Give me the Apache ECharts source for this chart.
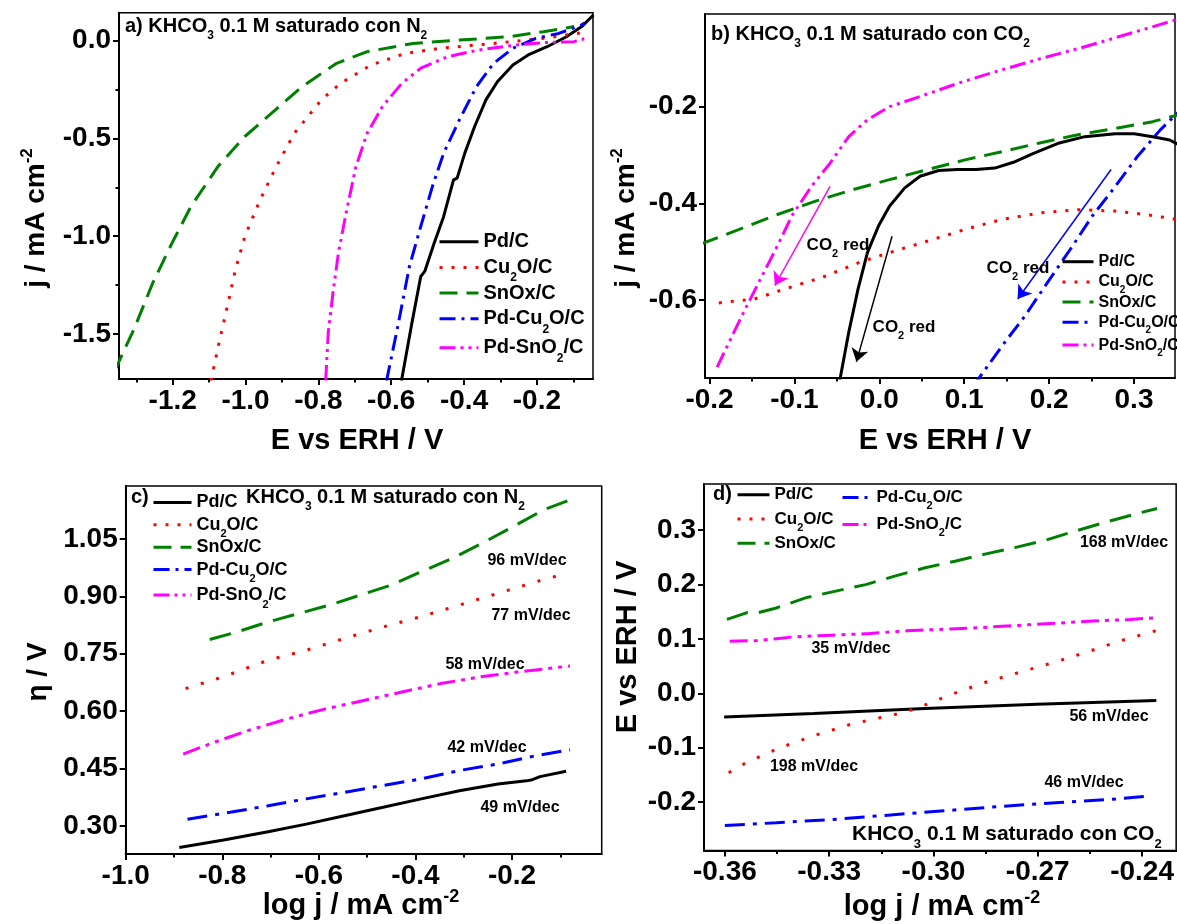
<!DOCTYPE html>
<html>
<head>
<meta charset="utf-8">
<script src="https://cdn.jsdelivr.net/npm/echarts@6/dist/echarts.min.js"></script>
<style>
  html, body { margin: 0; padding: 0; background: #fff; }
  #chart { width: 1177px; height: 924px; }
</style>
</head>
<body>
<div id="chart"></div>
<script>
const FONT = "'Liberation Sans', Arial, Helvetica, sans-serif"
const names = ['Pd/C', 'Cu2O/C', 'SnOx/C', 'Pd-Cu2O/C', 'Pd-SnO2/C']

// a) KHCO3 + N2, j vs E
const aPd = [[-0.572, -1.74], [-0.545, -1.461], [-0.519, -1.206], [-0.508, -1.18], [-0.482, -1.035], [-0.456, -0.899], [-0.429, -0.712], [-0.419, -0.703], [-0.398, -0.575], [-0.371, -0.439], [-0.340, -0.303], [-0.308, -0.209], [-0.266, -0.124], [-0.224, -0.073], [-0.172, -0.031], [-0.119, 0.020], [-0.077, 0.072], [-0.045, 0.131]]
const aCu = [[-1.095, -1.74], [-1.071, -1.529], [-1.050, -1.359], [-1.029, -1.18], [-1.002, -1.001], [-0.960, -0.814], [-0.918, -0.652], [-0.866, -0.473], [-0.792, -0.303], [-0.739, -0.218], [-0.655, -0.124], [-0.561, -0.065], [-0.466, -0.039], [-0.319, -0.014], [-0.182, 0.012], [-0.087, 0.037], [-0.075, 0.05]]
const aSn = [[-1.36, -1.69], [-1.307, -1.478], [-1.255, -1.24], [-1.202, -1.035], [-1.150, -0.848], [-1.076, -0.644], [-1.002, -0.490], [-0.918, -0.354], [-0.845, -0.235], [-0.750, -0.116], [-0.666, -0.056], [-0.540, -0.014], [-0.413, 0.003], [-0.277, 0.020], [-0.182, 0.046], [-0.098, 0.072]]
const aPdCu = [[-0.613, -1.74], [-0.582, -1.461], [-0.550, -1.154], [-0.519, -0.950], [-0.487, -0.746], [-0.456, -0.575], [-0.413, -0.405], [-0.366, -0.235], [-0.319, -0.116], [-0.266, -0.039], [-0.203, 0.012], [-0.140, 0.037], [-0.077, 0.080], [-0.07, 0.09]]
const aPdSn = [[-0.780, -1.74], [-0.773, -1.495], [-0.760, -1.29], [-0.745, -1.086], [-0.724, -0.882], [-0.697, -0.644], [-0.666, -0.473], [-0.624, -0.337], [-0.571, -0.218], [-0.519, -0.141], [-0.445, -0.082], [-0.361, -0.048], [-0.256, -0.022], [-0.182, -0.010], [-0.098, -0.005], [-0.07, 0.01]]

// b) KHCO3 + CO2, j vs E
const bPd = [[-0.048, -0.78], [-0.036, -0.667], [-0.025, -0.577], [-0.014, -0.502], [-0.001, -0.447], [0.012, -0.406], [0.030, -0.368], [0.048, -0.344], [0.070, -0.332], [0.092, -0.330], [0.114, -0.330], [0.136, -0.327], [0.158, -0.315], [0.181, -0.297], [0.212, -0.275], [0.242, -0.262], [0.278, -0.256], [0.300, -0.256], [0.322, -0.262], [0.342, -0.269], [0.352, -0.278]]
const bCu = [[-0.189, -0.606], [-0.147, -0.598], [-0.111, -0.577], [-0.067, -0.553], [-0.023, -0.522], [0.012, -0.502], [0.057, -0.478], [0.101, -0.454], [0.145, -0.433], [0.189, -0.420], [0.234, -0.413], [0.278, -0.416], [0.313, -0.423], [0.350, -0.433]]
const bSn = [[-0.21, -0.484], [-0.165, -0.454], [-0.120, -0.423], [-0.076, -0.396], [-0.032, -0.372], [0.012, -0.351], [0.057, -0.330], [0.101, -0.310], [0.145, -0.293], [0.189, -0.275], [0.234, -0.258], [0.278, -0.245], [0.322, -0.231], [0.352, -0.217]]
const bPdCu = [[0.110, -0.78], [0.145, -0.694], [0.172, -0.632], [0.198, -0.564], [0.225, -0.495], [0.251, -0.426], [0.278, -0.365], [0.304, -0.303], [0.331, -0.248], [0.352, -0.212]]
const bPdSn = [[-0.191, -0.739], [-0.173, -0.673], [-0.156, -0.612], [-0.138, -0.550], [-0.120, -0.488], [-0.103, -0.426], [-0.080, -0.365], [-0.058, -0.317], [-0.036, -0.262], [-0.014, -0.227], [0.012, -0.200], [0.048, -0.179], [0.092, -0.152], [0.136, -0.128], [0.189, -0.101], [0.242, -0.076], [0.300, -0.046], [0.352, -0.019]]
// "CO2 red" arrows (start, end)
const bArrowSn = [[-0.058, -0.365], [-0.123, -0.570]]
const bArrowPd = [[0.015, -0.468], [-0.027, -0.728]]
const bArrowCu = [[0.273, -0.330], [0.163, -0.598]]

// c) Tafel, N2
const cPd = [[-0.889, 0.244], [-0.800, 0.263], [-0.705, 0.285], [-0.626, 0.305], [-0.547, 0.327], [-0.467, 0.349], [-0.388, 0.371], [-0.309, 0.392], [-0.229, 0.410], [-0.170, 0.418], [-0.158, 0.421], [-0.142, 0.429], [-0.088, 0.443]]
const cCu = [[-0.876, 0.659], [-0.800, 0.689], [-0.705, 0.733], [-0.626, 0.759], [-0.547, 0.790], [-0.467, 0.820], [-0.388, 0.847], [-0.309, 0.877], [-0.229, 0.908], [-0.150, 0.938], [-0.087, 0.960]]
const cSn = [[-0.826, 0.787], [-0.769, 0.807], [-0.705, 0.833], [-0.642, 0.855], [-0.578, 0.877], [-0.515, 0.903], [-0.451, 0.929], [-0.388, 0.964], [-0.324, 0.999], [-0.261, 1.039], [-0.198, 1.082], [-0.134, 1.126], [-0.079, 1.152]]
const cPdCu = [[-0.872, 0.318], [-0.784, 0.336], [-0.705, 0.353], [-0.626, 0.371], [-0.547, 0.388], [-0.467, 0.406], [-0.388, 0.423], [-0.309, 0.445], [-0.229, 0.462], [-0.150, 0.484], [-0.080, 0.499]]
const cPdSn = [[-0.881, 0.488], [-0.816, 0.519], [-0.745, 0.550], [-0.665, 0.580], [-0.586, 0.606], [-0.507, 0.628], [-0.428, 0.650], [-0.348, 0.672], [-0.269, 0.689], [-0.190, 0.702], [-0.080, 0.718]]
const cSlopes = ['96 mV/dec', '77 mV/dec', '58 mV/dec', '42 mV/dec', '49 mV/dec']

// d) Tafel, CO2
const dPd = [[-0.3602, -0.0435], [-0.3345, -0.037], [-0.3024, -0.028], [-0.2702, -0.020], [-0.2359, -0.013]]
const dCu = [[-0.3589, -0.146], [-0.3538, -0.127], [-0.3441, -0.100], [-0.3345, -0.078], [-0.3238, -0.057], [-0.3099, -0.037], [-0.3050, -0.028], [-0.2949, -0.002], [-0.2852, 0.020], [-0.2756, 0.038], [-0.2659, 0.056], [-0.2563, 0.075], [-0.2466, 0.096], [-0.2361, 0.115]]
const dSn = [[-0.3594, 0.136], [-0.3538, 0.148], [-0.3506, 0.148], [-0.3452, 0.157], [-0.3366, 0.176], [-0.3281, 0.188], [-0.3195, 0.200], [-0.3109, 0.216], [-0.3024, 0.231], [-0.2938, 0.243], [-0.2852, 0.256], [-0.2766, 0.268], [-0.2681, 0.281], [-0.2595, 0.298], [-0.2509, 0.314], [-0.2424, 0.329], [-0.2357, 0.340]]
const dPdCu = [[-0.360, -0.243], [-0.3452, -0.238], [-0.3291, -0.232], [-0.3131, -0.224], [-0.2970, -0.216], [-0.2809, -0.208], [-0.2649, -0.201], [-0.2488, -0.195], [-0.2381, -0.189]]
const dPdSn = [[-0.3586, 0.096], [-0.3506, 0.097], [-0.3399, 0.104], [-0.3291, 0.107], [-0.3184, 0.110], [-0.3077, 0.115], [-0.2970, 0.118], [-0.2863, 0.121], [-0.2756, 0.125], [-0.2649, 0.129], [-0.2541, 0.133], [-0.2434, 0.136], [-0.2359, 0.139]]
const dSlopes = ['168 mV/dec', '35 mV/dec', '56 mV/dec', '198 mV/dec', '46 mV/dec']

// tick values
const aXTicks = [-1.2, -1.0, -0.8, -0.6, -0.4, -0.2]
const aXMinor = [-1.3, -1.1, -0.9, -0.7, -0.5, -0.3, -0.1]
const aYTicks = [0.0, -0.5, -1.0, -1.5]
const aYMinor = [-0.25, -0.75, -1.25]
const bXTicks = [-0.2, -0.1, 0.0, 0.1, 0.2, 0.3]
const bXMinor = [-0.15, -0.05, 0.05, 0.15, 0.25]
const bYTicks = [-0.2, -0.4, -0.6]
const cXTicks = [-1.0, -0.8, -0.6, -0.4, -0.2]
const cXMinor = [-0.9, -0.7, -0.5, -0.3, -0.1]
const cYTicks = [0.30, 0.45, 0.60, 0.75, 0.90, 1.05]
const dXTicks = [-0.36, -0.33, -0.30, -0.27, -0.24]
const dXMinor = [-0.345, -0.315, -0.285, -0.255]
const dYTicks = [-0.2, -0.1, 0.0, 0.1, 0.2, 0.3]

// line looks, small patterns for a/b, wider for c/d
const looks = {
  'Pd/C': { color: '#000000', dash: 'solid', dash2: 'solid' },
  'Cu2O/C': { color: '#ff0000', dash: [3, 9], dash2: [3, 13] },
  'SnOx/C': { color: '#008000', dash: [18, 9], dash2: [22, 11] },
  'Pd-Cu2O/C': { color: '#0000ff', dash: [16, 6, 3, 6], dash2: [20, 8, 4, 8] },
  'Pd-SnO2/C': { color: '#ff00ff', dash: [16, 5, 3, 5, 3, 5], dash2: [18, 6, 4, 6, 4, 6] }
}

function richSet(F, H) {
  const s = Math.round(F * 0.62)
  return {
    n: { fontSize: F, fontWeight: 'bold', fontFamily: FONT, color: '#000', lineHeight: H },
    s: { fontSize: s, fontWeight: 'bold', fontFamily: FONT, color: '#000', lineHeight: s, padding: [H - s, 0, 0, 0] },
    p: { fontSize: s, fontWeight: 'bold', fontFamily: FONT, color: '#000', lineHeight: s, padding: [0, 0, H - s, 0] }
  }
}

const xAxes = []
const yAxes = []
function addAxis(list, gi, pos, min, max, ticks, minor, dec) {
  const idx = list.length
  list.push({
    type: 'value', gridIndex: gi, position: pos, min: min, max: max,
    axisLine: { show: true, onZero: false, lineStyle: { color: '#000', width: 2 } },
    axisTick: { show: true, length: 6, customValues: ticks, lineStyle: { color: '#000', width: 2 } },
    axisLabel: {
      show: true, customValues: ticks, margin: 8,
      formatter: v => Number(v).toFixed(dec),
      color: '#000', fontSize: 28, fontWeight: 'bold', fontFamily: FONT
    },
    splitLine: { show: false }
  })
  if (minor) {
    list.push({
      type: 'value', gridIndex: gi, position: pos, min: min, max: max,
      axisLine: { show: false, onZero: false },
      axisTick: { show: true, length: 3.5, customValues: minor, lineStyle: { color: '#000', width: 2 } },
      axisLabel: { show: false },
      splitLine: { show: false }
    })
  }
  return idx
}

const ax = {
  a: [addAxis(xAxes, 0, 'bottom', -1.3475, -0.046, aXTicks, aXMinor, 1), addAxis(yAxes, 0, 'left', -1.73, 0.143, aYTicks, aYMinor, 1)],
  b: [addAxis(xAxes, 1, 'bottom', -0.2053, 0.3483, bXTicks, bXMinor, 1), addAxis(yAxes, 1, 'left', -0.7614, -0.0082, bYTicks, null, 1)],
  c: [addAxis(xAxes, 2, 'bottom', -1.0, -0.0143, cXTicks, cXMinor, 1), addAxis(yAxes, 2, 'left', 0.227, 1.188, cYTicks, null, 2)],
  d: [addAxis(xAxes, 3, 'bottom', -0.366, -0.2302, dXTicks, dXMinor, 2), addAxis(yAxes, 3, 'left', -0.289, 0.385, dYTicks, null, 1)]
}

function line(name, data, panel, wide, arrow) {
  const lk = looks[name]
  const s = {
    type: 'line', name: name, data: data,
    xAxisIndex: ax[panel][0], yAxisIndex: ax[panel][1],
    symbol: 'none', showSymbol: false, smooth: false, silent: true,
    lineStyle: { color: lk.color, width: 3, type: wide ? lk.dash2 : lk.dash },
    itemStyle: { color: lk.color },
    emphasis: { disabled: true }
  }
  if (arrow) {
    s.markLine = {
      silent: true, symbol: ['none', 'arrow'], symbolSize: 13,
      label: { show: false },
      lineStyle: { color: lk.color, width: 1.5, type: 'solid' },
      emphasis: { disabled: true },
      data: [[{ coord: arrow[0] }, { coord: arrow[1] }]]
    }
  }
  return s
}

const series = [
  line('Pd/C', aPd, 'a'), line('Cu2O/C', aCu, 'a'), line('SnOx/C', aSn, 'a'), line('Pd-Cu2O/C', aPdCu, 'a'), line('Pd-SnO2/C', aPdSn, 'a'),
  line('Pd/C', bPd, 'b', false, bArrowPd), line('Cu2O/C', bCu, 'b'), line('SnOx/C', bSn, 'b'), line('Pd-Cu2O/C', bPdCu, 'b', false, bArrowCu), line('Pd-SnO2/C', bPdSn, 'b', false, bArrowSn),
  line('Pd/C', cPd, 'c', true), line('Cu2O/C', cCu, 'c', true), line('SnOx/C', cSn, 'c', true), line('Pd-Cu2O/C', cPdCu, 'c', true), line('Pd-SnO2/C', cPdSn, 'c', true),
  line('Pd/C', dPd, 'd', true), line('Cu2O/C', dCu, 'd', true), line('SnOx/C', dSn, 'd', true), line('Pd-Cu2O/C', dPdCu, 'd', true), line('Pd-SnO2/C', dPdSn, 'd', true)
]

const legendFmt = name => '{n|' + name.replace(/(\d)/g, '}{s|$1}{n|') + '}'
function legend(left, top, F, H, gap, w, data) {
  return {
    left: left, top: top, orient: 'vertical', padding: 0,
    itemWidth: w, itemHeight: H, itemGap: gap, selectedMode: false,
    data: data, formatter: legendFmt,
    // hide the marker the line icon adds in the middle
    itemStyle: { opacity: 0, color: 'transparent', borderWidth: 0 },
    lineStyle: { width: 3, opacity: 1 },
    textStyle: { fontSize: F, fontWeight: 'bold', fontFamily: FONT, color: '#000', rich: richSet(F, H) }
  }
}

function txt(x, y, text, F, H, align, rot) {
  return {
    type: 'text', x: x, y: y, rotation: rot || 0, silent: true, z: 100,
    style: {
      text: text, rich: richSet(F, H), fill: '#000',
      font: 'bold ' + F + 'px ' + FONT,
      align: align || 'center', textAlign: align || 'center',
      verticalAlign: 'middle', textVerticalAlign: 'middle'
    }
  }
}
const R = Math.PI / 2
const khN = '{n|KHCO}{s|3}{n| 0.1 M saturado con N}{s|2}'
const khC = '{n|KHCO}{s|3}{n| 0.1 M saturado con CO}{s|2}'
const co2red = '{n|CO}{s|2}{n| red}'
const cSlopePos = [[527, 561], [531, 616], [485, 665], [487, 748], [520, 808]]
const dSlopePos = [[1124, 543], [851, 649], [1109, 717], [814, 767], [1084, 783]]

const graphics = [
  txt(125, 26, '{n|a) }' + khN, 20, 32, 'left'),
  txt(711, 34, '{n|b) }' + khC, 20, 32, 'left'),
  txt(131, 497, '{n|c)}', 20, 32, 'left'),
  txt(246, 497, khN, 20, 32, 'left'),
  txt(713, 494, '{n|d)}', 20, 32, 'left'),
  txt(852, 834, khC, 21, 34, 'left'),
  txt(36, 218, '{n|j / mA cm}{p|-2}', 28, 34, 'center', R),
  txt(626, 218, '{n|j / mA cm}{p|-2}', 28, 34, 'center', R),
  txt(357, 441, '{n|E vs ERH / V}', 29, 35),
  txt(945, 441, '{n|E vs ERH / V}', 29, 35),
  txt(38, 672, '{n|η / V}', 28, 34, 'center', R),
  txt(628, 647, '{n|E vs ERH / V}', 29, 35, 'center', R),
  txt(361, 906, '{n|log j / mA cm}{p|-2}', 29, 35),
  txt(942, 907, '{n|log j / mA cm}{p|-2}', 29, 35),
  txt(838, 245, co2red, 17, 28),
  txt(904, 327, co2red, 17, 28),
  txt(1018, 268, co2red, 17, 28)
]
cSlopes.forEach((t, i) => graphics.push(txt(cSlopePos[i][0], cSlopePos[i][1], '{n|' + t + '}', 16, 20)))
dSlopes.forEach((t, i) => graphics.push(txt(dSlopePos[i][0], dSlopePos[i][1], '{n|' + t + '}', 16, 20)))

const gridBox = { show: true, borderColor: '#000', borderWidth: 1.5, backgroundColor: 'transparent', containLabel: false }
const option = {
  animation: false,
  backgroundColor: '#fff',
  textStyle: { fontFamily: FONT },
  grid: [
    Object.assign({ left: 119, top: 12.7, width: 474, height: 366.3 }, gridBox),
    Object.assign({ left: 705, top: 14, width: 470, height: 364 }, gridBox),
    Object.assign({ left: 125.7, top: 486, width: 476, height: 368 }, gridBox),
    Object.assign({ left: 704, top: 484, width: 476, height: 366.5 }, gridBox)
  ],
  xAxis: xAxes,
  yAxis: yAxes,
  legend: [
    legend(438, 228.5, 20, 33, -4, 39, names),
    legend(1061, 251.3, 16, 26, -3.2, 31, names),
    legend(152, 490.4, 18, 30, -4.6, 38, names),
    legend(736, 483.6, 17, 28, -1, 32, names.slice(0, 3)),
    legend(841, 483.6, 17, 28, -1, 29, names.slice(3))
  ],
  graphic: graphics,
  series: series
}

const myChart = echarts.init(document.getElementById('chart'), null, { renderer: 'canvas' })
myChart.setOption(option)
</script>
</body>
</html>
